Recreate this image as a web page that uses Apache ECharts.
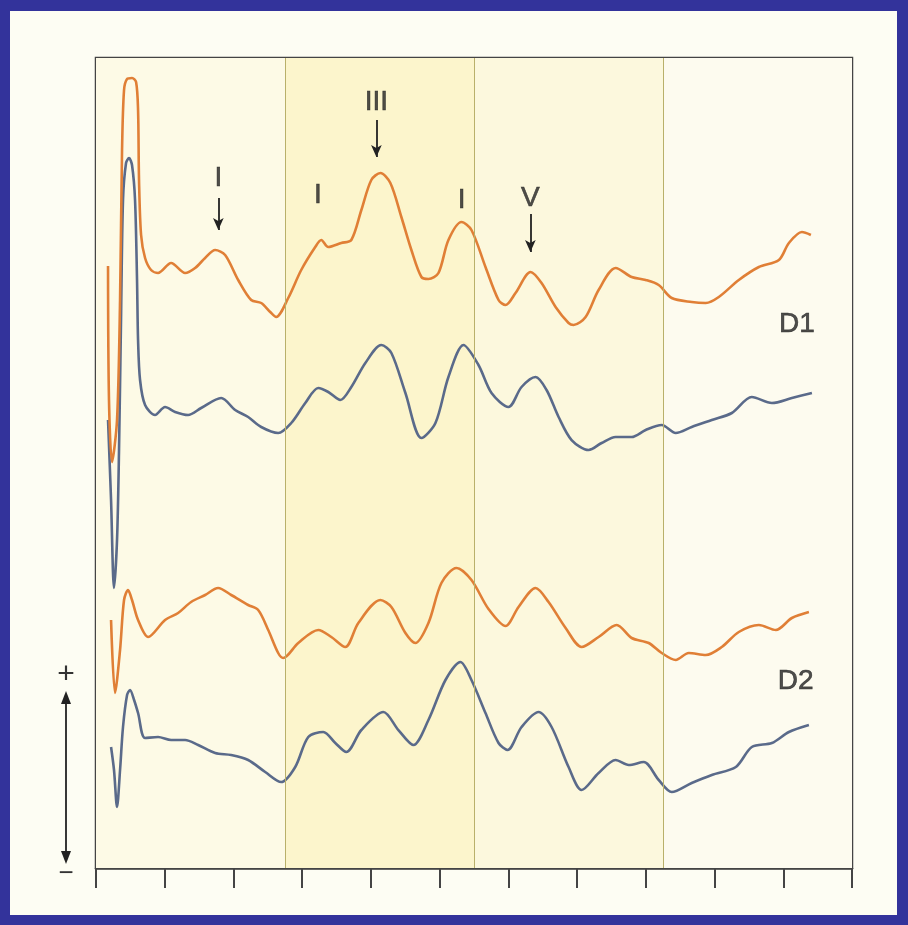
<!DOCTYPE html>
<html><head><meta charset="utf-8">
<script src="https://cdn.jsdelivr.net/npm/echarts@6/dist/echarts.min.js"></script>
<style>
html,body{margin:0;padding:0;background:#33339b;overflow:hidden;}
#paper{position:absolute;left:10px;top:11px;width:887px;height:904px;background:#fdfdf3;}
#c{position:absolute;left:0;top:0;width:908px;height:925px;}
</style>
</head><body><div id="paper"></div><div id="c"></div>
<script>
// time axis in ms (0..11), amplitude in arbitrary units (0..81)
const xTicks = [0,1,2,3,4,5,6,7,8,9,10,11];
const gridLinesX = [2.75, 5.5, 8.25];

const d1Orange = [[0.175,60.2],[0.189,46.8],[0.233,40.6],[0.306,44.8],[0.350,56.8],[0.379,71.8],[0.408,77.8],[0.452,78.9],[0.524,79.0],[0.583,78.6],[0.612,75.8],[0.626,68.8],[0.656,63.3],[0.714,61.0],[0.801,59.8],[0.903,59.5],[1.093,60.5],[1.297,59.5],[1.442,60.0],[1.588,61.0],[1.734,61.8],[1.879,61.3],[2.069,58.8],[2.258,56.8],[2.404,56.5],[2.535,55.6],[2.622,55.1],[2.797,57.0],[2.986,59.8],[3.190,62.1],[3.278,62.8],[3.380,62.1],[3.569,62.5],[3.715,62.8],[3.861,65.8],[4.006,68.8],[4.138,69.5],[4.283,68.5],[4.443,65.1],[4.589,61.8],[4.735,59.1],[4.837,58.9],[4.983,59.5],[5.128,62.8],[5.318,64.6],[5.463,63.8],[5.667,60.1],[5.857,56.8],[5.959,56.3],[6.104,57.5],[6.323,59.6],[6.483,58.5],[6.687,56.1],[6.876,54.5],[6.949,54.3],[7.124,55.1],[7.313,57.8],[7.561,60.0],[7.794,59.1],[7.998,58.8],[8.187,58.3],[8.377,57.0],[8.668,56.6],[8.872,56.5],[9.062,57.1],[9.353,58.8],[9.645,60.1],[9.936,60.8],[10.082,62.5],[10.271,63.6],[10.402,63.3]];

const d1Blue = [[0.175,44.8],[0.219,36.8],[0.262,28.0],[0.306,32.8],[0.335,41.8],[0.364,54.8],[0.393,66.8],[0.437,70.5],[0.481,71.0],[0.524,70.3],[0.568,66.8],[0.597,58.8],[0.612,52.8],[0.641,48.8],[0.714,46.3],[0.859,45.3],[1.005,46.1],[1.151,45.6],[1.340,45.3],[1.530,46.0],[1.821,47.0],[2.025,45.8],[2.214,45.1],[2.404,44.1],[2.651,43.5],[2.841,44.5],[3.045,46.5],[3.234,48.0],[3.380,47.6],[3.555,46.8],[3.715,48.1],[3.919,50.5],[4.152,52.3],[4.298,51.5],[4.502,47.5],[4.735,43.0],[4.939,44.5],[5.128,49.1],[5.347,52.3],[5.565,50.3],[5.755,47.5],[6.002,46.1],[6.192,48.1],[6.396,49.1],[6.556,47.8],[6.731,45.1],[6.920,42.8],[7.168,41.8],[7.357,42.5],[7.561,43.1],[7.794,43.1],[7.998,43.8],[8.231,44.3],[8.435,43.5],[8.668,44.1],[8.960,44.8],[9.251,45.5],[9.542,47.1],[9.834,46.5],[10.125,47.0],[10.417,47.5]];

const d2Orange = [[0.219,24.8],[0.277,17.5],[0.350,21.8],[0.408,26.8],[0.466,27.8],[0.524,26.8],[0.612,24.8],[0.758,23.1],[1.005,24.8],[1.195,25.5],[1.384,26.6],[1.588,27.3],[1.777,28.0],[1.967,27.3],[2.214,26.3],[2.360,25.8],[2.506,23.8],[2.651,21.5],[2.724,21.0],[2.943,22.5],[3.234,23.8],[3.424,23.1],[3.628,22.1],[3.817,24.5],[4.138,26.8],[4.298,26.1],[4.502,23.5],[4.647,22.5],[4.837,24.5],[5.026,28.5],[5.245,30.0],[5.463,28.8],[5.711,25.9],[5.959,24.2],[6.148,26.1],[6.396,28.0],[6.585,26.6],[6.833,24.0],[7.066,22.1],[7.313,23.1],[7.576,24.3],[7.794,23.0],[8.042,22.5],[8.231,21.5],[8.435,20.8],[8.625,21.5],[8.872,21.3],[9.105,22.1],[9.353,23.6],[9.645,24.3],[9.892,23.8],[10.125,25.0],[10.373,25.6]];

const d2Blue = [[0.219,12.1],[0.262,9.8],[0.306,6.1],[0.350,9.8],[0.393,14.1],[0.452,17.3],[0.495,17.8],[0.554,16.8],[0.612,15.5],[0.714,13.0],[0.903,13.1],[1.093,12.8],[1.297,12.8],[1.486,12.3],[1.734,11.5],[1.967,11.3],[2.214,10.8],[2.462,9.6],[2.695,8.6],[2.899,10.1],[3.089,13.1],[3.307,13.6],[3.482,12.5],[3.642,11.6],[3.861,13.8],[4.181,15.6],[4.400,13.8],[4.618,12.3],[4.837,14.8],[5.085,18.8],[5.303,20.6],[5.463,18.8],[5.667,15.5],[5.857,12.5],[5.988,11.8],[6.192,14.1],[6.439,15.6],[6.629,14.1],[6.876,10.1],[7.066,7.8],[7.313,9.5],[7.561,10.8],[7.751,10.3],[7.969,10.6],[8.188,8.8],[8.377,7.6],[8.668,8.5],[8.960,9.3],[9.310,10.1],[9.542,12.1],[9.834,12.5],[10.082,13.6],[10.373,14.3]];

const waveLabels = [
  {text:'I',   x:1.78, y:69.0, arrowFrom:67.0, arrowTo:63.8},
  {text:'I',   x:3.23, y:67.3},
  {text:'III', x:4.08, y:76.6, arrowFrom:74.8, arrowTo:71.1},
  {text:'I',   x:5.32, y:66.8},
  {text:'V',   x:6.32, y:67.0, arrowFrom:65.4, arrowTo:61.6}
];
const traceLabels = [
  {text:'D1', x:10.20, y:54.4},
  {text:'D2', x:10.18, y:18.7}
];

const ORANGE = '#e07f36';
const BLUE = '#5a6a8a';
const FONT = 'Liberation Sans, Arial, sans-serif';

function trace(name, data, color){
  return {name, type:'line', data, smooth:0.3, symbol:'none',
    lineStyle:{color, width:2.6}, z:3, silent:true};
}

const chart = echarts.init(document.getElementById('c'), null, {renderer:'canvas'});
chart.setOption({
  backgroundColor:'transparent',
  animation:false,
  grid:{left:96, right:56, top:58, bottom:57, show:true,
        backgroundColor:'#fdfae6', borderColor:'#444', borderWidth:2.5},
  xAxis:{type:'value', min:xTicks[0], max:xTicks[xTicks.length-1], interval:1,
    axisLine:{show:true, lineStyle:{color:'#444', width:2.5}},
    axisTick:{show:true, inside:false, length:20, lineStyle:{color:'#444', width:2}},
    axisLabel:{show:false}, splitLine:{show:false}},
  yAxis:{type:'value', min:0, max:81,
    axisLine:{show:false}, axisTick:{show:false}, axisLabel:{show:false}, splitLine:{show:false}},
  series:[
    {type:'line', data:[], silent:true, z:1,
      markArea:{silent:true, data:[
        [{xAxis:0, itemStyle:{color:'#fdfae6'}},{xAxis:gridLinesX[0]}],
        [{xAxis:gridLinesX[0], itemStyle:{color:'#fcf5cc'}},{xAxis:gridLinesX[1]}],
        [{xAxis:gridLinesX[1], itemStyle:{color:'#fcf8dd'}},{xAxis:gridLinesX[2]}],
        [{xAxis:gridLinesX[2], itemStyle:{color:'#fdfbef'}},{xAxis:11}]
      ]},
      markLine:{silent:true, symbol:['none','none'], label:{show:false},
        lineStyle:{color:'#b9b06a', width:1, type:'solid'},
        data:gridLinesX.map(v=>({xAxis:v}))}
    },
    trace('D1 blue', d1Blue, BLUE),
    trace('D1 orange', d1Orange, ORANGE),
    trace('D2 blue', d2Blue, BLUE),
    trace('D2 orange', d2Orange, ORANGE),
    {type:'line', data:[], silent:true, z:4,
      markLine:{silent:true, symbol:['none','arrow'], symbolSize:[8,12], label:{show:false},
        lineStyle:{color:'#222', width:1.8, type:'solid'},
        data:waveLabels.filter(w=>w.arrowFrom!==undefined).map(w=>[
          {coord:[w.x, w.arrowFrom]},{coord:[w.x, w.arrowTo]}])}
    },
    {type:'scatter', silent:true, z:5, symbolSize:0,
      data:waveLabels.concat(traceLabels).map(w=>({value:[w.x,w.y], name:w.text})),
      label:{show:true, position:'inside', formatter:p=>p.name,
        fontSize:28, color:'#222', fontFamily:FONT,
        textBorderColor:'#222', textBorderWidth:0.6}}
  ],
  graphic:[
    {type:'line', shape:{x1:66,y1:700,x2:66,y2:855}, style:{stroke:'#222', lineWidth:1.8}},
    {type:'polygon', shape:{points:[[66,691],[61,704],[71,704]]}, style:{fill:'#222'}},
    {type:'polygon', shape:{points:[[66,864],[61,851],[71,851]]}, style:{fill:'#222'}},
    {type:'text', x:66, y:675, style:{text:'+', fontSize:30, fill:'#333', fontFamily:FONT, align:'center', verticalAlign:'middle'}},
    {type:'text', x:66, y:874, style:{text:'−', fontSize:26, fill:'#333', fontFamily:FONT, align:'center', verticalAlign:'middle'}}
  ]
});
</script>
</body></html>
